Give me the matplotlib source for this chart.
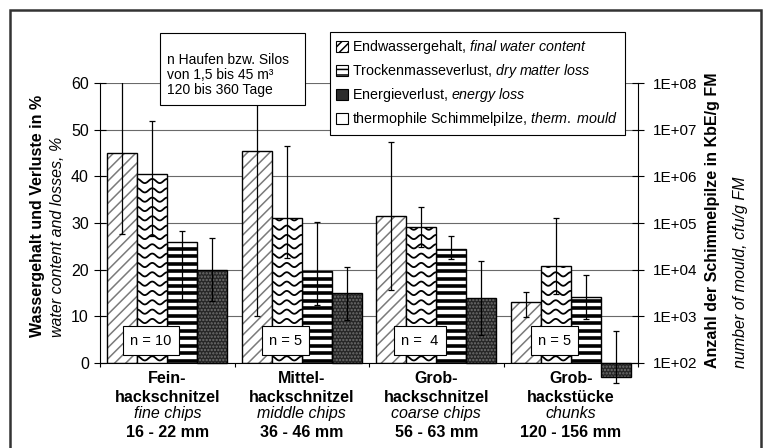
import numpy as np
import matplotlib
matplotlib.use('Agg')
import matplotlib.pyplot as plt
from matplotlib.patches import Patch, Rectangle
from matplotlib.ticker import FuncFormatter, NullLocator

plt.rcParams['font.family'] = 'Liberation Sans'
plt.rcParams['mathtext.fontset'] = 'custom'
plt.rcParams['mathtext.rm'] = 'Liberation Sans'
plt.rcParams['mathtext.it'] = 'Liberation Sans:italic'
plt.rcParams['hatch.linewidth'] = 1.1

# categories (4 label lines each)
cat_line1 = ['Fein-', 'Mittel-', 'Grob-', 'Grob-']
cat_line2 = ['hackschnitzel', 'hackschnitzel', 'hackschnitzel', 'hackstücke']
cat_en = ['fine chips', 'middle chips', 'coarse chips', 'chunks']
cat_size = ['16 - 22 mm', '36 - 46 mm', '56 - 63 mm', '120 - 156 mm']
n_labels = ['n = 10', 'n = 5', 'n =  4', 'n = 5']

# final water content, %
water = [45.1, 45.5, 31.5, 13.1]
water_lo = [17.4, 35.4, 15.8, 3.3]
water_hi = [15.4, 35.4, 15.8, 2.1]
# thermophilic mould, cfu/g FM (right log axis)
mould = [1.12e6, 1.29e5, 8.3e4, 1.2e4]
mould_lo_end = [5.2e4, 1.8e4, 3.1e4, 3.0e3]
mould_hi_end = [1.5e7, 4.4e6, 2.2e5, 1.3e5]
# dry matter loss, %
dry = [26.0, 19.7, 24.5, 14.1]
dry_lo = [12.5, 7.2, 2.3, 4.7]
dry_hi = [2.2, 10.6, 2.7, 4.7]
# energy loss, %
energy = [20.0, 14.9, 13.9, -2.9]
energy_lo = [6.7, 5.7, 7.9, 1.4]
energy_hi = [6.7, 5.7, 7.9, 9.7]

legend_labels = [r'Endwassergehalt, $\it{final\ water\ content}$',
                 r'Trockenmasseverlust, $\it{dry\ matter\ loss}$',
                 r'Energieverlust, $\it{energy\ loss}$',
                 r'thermophile Schimmelpilze, $\it{therm.\ mould}$']

W, H = 771, 448
def fx(px): return px / W
def fy(py): return 1 - py / H

fig = plt.figure(figsize=(W / 100, H / 100), dpi=100)
ax = fig.add_axes([fx(100), fy(363), 538 / W, 280 / H])
ax2 = ax.twinx()

x = np.arange(len(cat_line1))
bw = 0.223
offs = np.array([-1.5, -0.5, 0.5, 1.5]) * bw
ebkw = dict(fmt='none', ecolor='black', elinewidth=0.9, capsize=2.2, capthick=0.9, zorder=4)

# water content: grey diagonal hatch
ax.bar(x + offs[0], water, bw, color='white', hatch='///', edgecolor='#7a7a7a', lw=0, zorder=2)
ax.bar(x + offs[0], water, bw, fill=False, edgecolor='black', lw=1.0, zorder=3)
ax.errorbar(x + offs[0], water, yerr=[water_lo, water_hi], **ebkw)

# dry matter loss: thick horizontal stripes
dry_bars = ax.bar(x + offs[2], dry, bw, color='white', lw=0, zorder=2)
rows = np.arange(0.5, 60, 1.6)
for p in dry_bars.patches:
    lc = ax.hlines(rows, p.get_x(), p.get_x() + p.get_width(), colors='black', lw=2.6, zorder=2.2)
    lc.set_clip_path(p)
ax.bar(x + offs[2], dry, bw, fill=False, edgecolor='black', lw=1.0, zorder=3)
ax.errorbar(x + offs[2], dry, yerr=[dry_lo, dry_hi], **ebkw)

# energy loss: dark stippled
ax.bar(x + offs[3], energy, bw, color='#262626', hatch='.....', edgecolor='#707070', lw=0, zorder=2, clip_on=False)
ax.bar(x + offs[3], energy, bw, fill=False, edgecolor='black', lw=1.0, zorder=3, clip_on=False)
eb = ax.errorbar(x + offs[3], energy, yerr=[energy_lo, energy_hi], **ebkw)
for art in eb.get_children():
    art.set_clip_on(False)

# mould: wavy pattern, log axis on the right
ax2.set_yscale('log')
ax2.set_ylim(1e2, 1e8)
mould = np.array(mould)
m_bars = ax2.bar(x + offs[1], mould - 1e2, bw, bottom=1e2, color='white', lw=0, zorder=2)
wrows = np.arange(1.0, 60, 2.0)
for p in m_bars.patches:
    xs = np.linspace(p.get_x(), p.get_x() + p.get_width(), 80)
    ph = 2 * np.pi * (xs - p.get_x()) / (p.get_width() / 2)
    for r in wrows:
        ln, = ax2.plot(xs, r + 0.45 * np.cos(ph), color='black', lw=1.3,
                       transform=ax.transData, zorder=2.2)
        ln.set_clip_path(p)
ax2.bar(x + offs[1], mould - 1e2, bw, bottom=1e2, fill=False, edgecolor='black', lw=1.0, zorder=3)
ax2.errorbar(x + offs[1], mould,
             yerr=[mould - np.array(mould_lo_end), np.array(mould_hi_end) - mould], **ebkw)

# axes styling
ax.set_xlim(-0.5, 3.5)
ax.set_ylim(0, 60)
ax.set_yticks(np.arange(0, 61, 10))
ax.yaxis.grid(True, color='#6a6a6a', lw=0.8)
ax.set_axisbelow(True)
ax.tick_params(axis='y', direction='inout', length=8, width=0.8, labelsize=11.5, pad=4)
ax.set_xticks(np.arange(-0.5, 3.6, 1))
ax.set_xticklabels([])
ax.tick_params(axis='x', direction='out', length=3, width=0.8)
for s in ['top', 'right']:
    ax.spines[s].set_visible(False)
ax.spines['left'].set_linewidth(0.8)
ax.spines['bottom'].set_linewidth(0.8)

ax2.set_yticks(10.0 ** np.arange(2, 9))
ax2.yaxis.set_minor_locator(NullLocator())
ax2.yaxis.set_major_formatter(FuncFormatter(lambda v, pos: '1E+%02d' % round(np.log10(v))))
ax2.tick_params(axis='y', direction='inout', length=8, width=0.8, labelsize=11, pad=7)
for s in ['top', 'left', 'bottom']:
    ax2.spines[s].set_visible(False)
ax2.spines['right'].set_linewidth(0.8)

# n boxes
for i, lab in enumerate(n_labels):
    ax2.text(x[i] - 0.12, 4.8, lab, transform=ax.transData, ha='center', va='center',
             fontsize=10.5, zorder=6,
             bbox=dict(boxstyle='square,pad=0.5', fc='white', ec='black', lw=0.8))

# category labels
line_specs = [(cat_line1, 'bold', 'normal', 11.5), (cat_line2, 'bold', 'normal', 24.5),
              (cat_en, 'normal', 'italic', 36.5), (cat_size, 'bold', 'normal', 50)]
for labels, wt, st, dy in line_specs:
    for i, lab in enumerate(labels):
        ax.annotate(lab, xy=(x[i], 0), xycoords=('data', 'axes fraction'),
                    xytext=(0, -dy), textcoords='offset points', ha='center', va='center',
                    fontsize=11.5, fontweight=wt, fontstyle=st, annotation_clip=False)

# axis titles
fig.text(fx(38), fy(337), 'Wassergehalt und Verluste in %', rotation=90, ha='center', va='bottom',
         fontsize=11.5, fontweight='bold')
fig.text(fx(58), fy(337), 'water content and losses, %', rotation=90, ha='center', va='bottom',
         fontsize=11.5, fontstyle='italic')
fig.text(fx(713), fy(368), 'Anzahl der Schimmelpilze in KbE/g FM', rotation=90, ha='center', va='bottom',
         fontsize=11.5, fontweight='bold')
fig.text(fx(740), fy(368), 'number of mould, cfu/g FM', rotation=90, ha='center', va='bottom',
         fontsize=11.5, fontstyle='italic')

# info box
fig.add_artist(Rectangle((fx(160), fy(105)), 145 / W, 72 / H, transform=fig.transFigure,
                         fc='white', ec='black', lw=0.8, zorder=4))
fig.text(fx(167), fy(75), 'n Haufen bzw. Silos\nvon 1,5 bis 45 m³\n120 bis 360 Tage',
         ha='left', va='center', fontsize=10, linespacing=1.1, zorder=5)

# legend
handles = [Patch(facecolor='white', edgecolor='black', hatch='////', lw=0.8),
           Patch(facecolor='white', edgecolor='black', hatch='---', lw=0.8),
           Patch(facecolor='#2c2c2c', edgecolor='black', lw=0.8),
           Patch(facecolor='white', edgecolor='black', lw=0.8)]
leg = fig.legend(handles, legend_labels, loc='upper left', bbox_to_anchor=(fx(330), fy(32)),
                 fontsize=10.3, frameon=True, fancybox=False, edgecolor='black', framealpha=1,
                 borderaxespad=0, handlelength=0.8, handleheight=0.8, handletextpad=0.3,
                 labelspacing=0.42, borderpad=0.45)
leg.get_frame().set_linewidth(0.8)

# outer frame
fig.add_artist(Rectangle((fx(10), -0.05), 751 / W, fy(10) + 0.05, transform=fig.transFigure,
                         fill=False, ec='#333333', lw=1.8, zorder=10))

fig.savefig('out.png', dpi=100)
